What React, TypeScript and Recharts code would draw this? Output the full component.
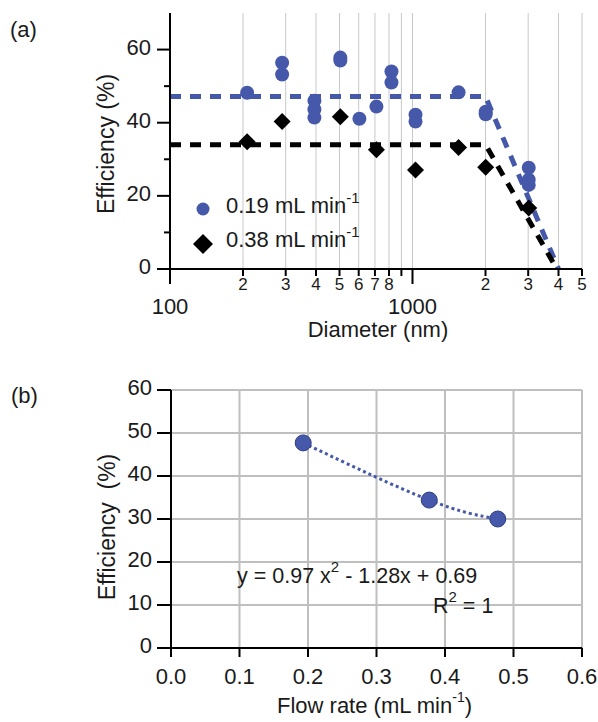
import {
  CartesianGrid,
  ComposedChart,
  Legend,
  Line,
  Scatter,
  XAxis,
  YAxis,
} from "recharts";

// Panel (a): efficiency vs particle diameter, two flow rates.
// Panel (b): efficiency vs flow rate with a quadratic fit.

const FONT = "'Liberation Sans', Arial, Helvetica, sans-serif";
const BLUE = "#4658a9";
const INK = "#1a1a1a";
const GRID = "#c8c8c8";

// (a) 0.19 mL/min
const diamBlue = [208, 290, 290, 394, 394, 394, 504, 504, 604, 710, 819, 819, 1029, 1029, 1549, 2004, 2004, 3015, 3015, 3015];
const effBlue = [48.2, 56.4, 53.2, 46.0, 43.6, 41.4, 57.8, 57.0, 41.1, 44.4, 54.0, 51.0, 42.2, 40.3, 48.3, 43.0, 42.3, 27.7, 24.4, 23.0];
// (a) 0.38 mL/min
const diamBlack = [208, 290, 504, 710, 1029, 1549, 2004, 3015];
const effBlack = [34.8, 40.3, 41.6, 32.6, 27.1, 33.2, 27.8, 16.7];
// (a) dashed guide lines
const guideDiamBlue = [100, 2000, 4000];
const guideEffBlue = [47.2, 47.2, 0];
const guideDiamBlack = [100, 2000, 3900];
const guideEffBlack = [34.0, 34.0, 0.5];
const diamTicks = [100, 200, 300, 400, 500, 600, 700, 800, 900, 1000, 2000, 3000, 4000, 5000];
const effTicksA = [0, 10, 20, 30, 40, 50, 60];

// (b)
const flowRate = [0.193, 0.377, 0.477];
const flowEff = [47.7, 34.4, 30.0];
const flowTicks = [0, 0.1, 0.2, 0.3, 0.4, 0.5, 0.6];
const effTicksB = [0, 10, 20, 30, 40, 50, 60];

const zip = (xs: number[], ys: number[]) => xs.map((x, i) => ({ x, y: ys[i] }));

const diamond = (cx: number, cy: number, h: number) =>
  `M${cx},${cy - h}L${cx + h},${cy}L${cx},${cy + h}L${cx - h},${cy}Z`;

const BlueDot = (p: any) => <circle cx={p.cx} cy={p.cy} r={7} fill={BLUE} />;
const BlackDiamond = (p: any) => <path d={diamond(p.cx, p.cy, 8.5)} fill="#000" />;

function DiamTick({ x, y, payload }: any) {
  const v = payload.value as number;
  const exp = Math.floor(Math.log10(v) + 1e-9);
  const lead = Math.round(v / 10 ** exp);
  const major = lead === 1;
  return (
    <g>
      <line x1={x} y1={y} x2={x} y2={y + (major ? 15 : 7)} stroke="#000" strokeWidth={2} />
      {major ? (
        <text x={x} y={y + 45} textAnchor="middle" fontSize={22} fill={INK} fontFamily={FONT}>
          {v}
        </text>
      ) : lead !== 9 ? (
        <text x={x} y={y + 21} textAnchor="middle" fontSize={17} fill={INK} fontFamily={FONT}>
          {lead}
        </text>
      ) : null}
    </g>
  );
}

function EffTickA({ x, y, payload }: any) {
  const v = payload.value as number;
  const major = v % 20 === 0;
  return (
    <g>
      <line x1={x - (major ? 13 : 6)} y1={y} x2={x} y2={y} stroke="#000" strokeWidth={2} />
      {major && (
        <text x={x - 19} y={y + 5} textAnchor="end" fontSize={22} fill={INK} fontFamily={FONT}>
          {v}
        </text>
      )}
    </g>
  );
}

function FlowTick({ x, y, payload }: any) {
  return (
    <g>
      <line x1={x} y1={y} x2={x} y2={y + 9} stroke="#000" strokeWidth={2} />
      <text x={x} y={y + 36} textAnchor="middle" fontSize={22} fill={INK} fontFamily={FONT}>
        {(payload.value as number).toFixed(1)}
      </text>
    </g>
  );
}

function EffTickB({ x, y, payload }: any) {
  return (
    <g>
      <line x1={x - 14} y1={y} x2={x} y2={y} stroke="#000" strokeWidth={2} />
      <text x={x - 19} y={y + 5} textAnchor="end" fontSize={22} fill={INK} fontFamily={FONT}>
        {payload.value}
      </text>
    </g>
  );
}

function DiamLegend() {
  return (
    <svg width={190} height={72} style={{ overflow: "visible", fontFamily: FONT }}>
      <circle cx={13} cy={19} r={6.5} fill={BLUE} />
      <text x={36} y={23} fontSize={22} fill={INK}>
        0.19 mL min<tspan dy={-10} fontSize={15}>-1</tspan>
      </text>
      <path d={diamond(13, 54, 10)} fill="#000" />
      <text x={36} y={57} fontSize={22} fill={INK}>
        0.38 mL min<tspan dy={-10} fontSize={15}>-1</tspan>
      </text>
    </svg>
  );
}

const axisLine = { stroke: "#000", strokeWidth: 2 };

function DiameterChart() {
  return (
    <ComposedChart width={598} height={345} margin={{ top: 13, right: 16, bottom: 36, left: 110 }}>
      <CartesianGrid horizontal={false} stroke={GRID} strokeWidth={1} />
      <XAxis
        dataKey="x"
        type="number"
        scale="log"
        domain={[100, 5000]}
        allowDataOverflow
        ticks={diamTicks}
        interval={0}
        tick={<DiamTick />}
        tickLine={false}
        tickSize={0}
        tickMargin={0}
        axisLine={axisLine}
        height={40}
      />
      <XAxis xAxisId="top" orientation="top" type="number" scale="log" domain={[100, 5000]}
             allowDataOverflow tick={false} tickLine={false} axisLine={axisLine} height={0} />
      <YAxis
        dataKey="y"
        type="number"
        domain={[0, 70]}
        allowDataOverflow
        ticks={effTicksA}
        interval={0}
        tick={<EffTickA />}
        tickLine={false}
        tickSize={0}
        tickMargin={0}
        axisLine={axisLine}
        width={60}
      />
      <YAxis yAxisId="right" orientation="right" type="number" domain={[0, 70]} tick={false}
             tickLine={false} axisLine={axisLine} width={0} />
      <Line data={zip(guideDiamBlue, guideEffBlue)} dataKey="y" type="linear" stroke={BLUE}
            strokeWidth={5} strokeDasharray="11 9" dot={false} isAnimationActive={false} />
      <Line data={zip(guideDiamBlack, guideEffBlack)} dataKey="y" type="linear" stroke="#000"
            strokeWidth={5} strokeDasharray="11 9" dot={false} isAnimationActive={false} />
      <Scatter data={zip(diamBlue, effBlue)} dataKey="y" shape={BlueDot} isAnimationActive={false} />
      <Scatter data={zip(diamBlack, effBlack)} dataKey="y" shape={BlackDiamond} isAnimationActive={false} />
      <Legend
        layout="vertical"
        align="center"
        verticalAlign="middle"
        content={() => <DiamLegend />}
        wrapperStyle={{ left: 190, top: 190, width: 200, height: 72 }}
      />
    </ComposedChart>
  );
}

function FlowChart() {
  return (
    <ComposedChart width={598} height={362} margin={{ top: 30, right: 16, bottom: 34, left: 111 }}>
      <CartesianGrid stroke="#bfbfbf" strokeWidth={2} />
      <XAxis
        dataKey="x"
        type="number"
        domain={[0, 0.6]}
        ticks={flowTicks}
        interval={0}
        tick={<FlowTick />}
        tickLine={false}
        tickSize={0}
        tickMargin={0}
        axisLine={axisLine}
        height={40}
      />
      <XAxis xAxisId="top" orientation="top" type="number" domain={[0, 0.6]} tick={false}
             tickLine={false} axisLine={axisLine} height={0} />
      <YAxis
        dataKey="y"
        type="number"
        domain={[0, 60]}
        ticks={effTicksB}
        interval={0}
        tick={<EffTickB />}
        tickLine={false}
        tickSize={0}
        tickMargin={0}
        axisLine={axisLine}
        width={60}
      />
      <YAxis yAxisId="right" orientation="right" type="number" domain={[0, 60]} tick={false}
             tickLine={false} axisLine={axisLine} width={0} />
      <Line
        data={zip(flowRate, flowEff)}
        dataKey="y"
        type="natural"
        stroke={BLUE}
        strokeWidth={3}
        strokeDasharray="3 3"
        dot={{ r: 8, fill: BLUE, stroke: "#2f3d85", strokeWidth: 1, strokeDasharray: "" }}
        isAnimationActive={false}
      />
    </ComposedChart>
  );
}

export default function App() {
  return (
    <div style={{ position: "absolute", left: 0, top: 0, width: 598, height: 722, background: "#fff", fontFamily: FONT }}>
      <div style={{ position: "absolute", left: 0, top: 0 }}>
        <DiameterChart />
      </div>
      <div style={{ position: "absolute", left: 0, top: 360 }}>
        <FlowChart />
      </div>
      <svg width={598} height={722} style={{ position: "absolute", left: 0, top: 0, pointerEvents: "none" }}
           fontFamily={FONT} fill={INK}>
        <text x={10} y={37} fontSize={22}>(a)</text>
        <text x={114} y={144} fontSize={23} textAnchor="middle" transform="rotate(-90 114 144)">
          Efficiency (%)
        </text>
        <text x={378} y={337} fontSize={22} textAnchor="middle">Diameter (nm)</text>

        <text x={11} y={403} fontSize={22}>(b)</text>
        <text x={115} y={527} fontSize={23} textAnchor="middle" transform="rotate(-90 115 527)"
              style={{ whiteSpace: "pre" }}>
          {"Efficiency  (%)"}
        </text>
        <text x={277} y={713} fontSize={22}>
          Flow rate (mL min<tspan dy={-11} fontSize={14}>-1</tspan>
          <tspan dy={11}>)</tspan>
        </text>
        <text x={237} y={583} fontSize={21.5}>
          y = 0.97 x<tspan dy={-11} fontSize={15}>2</tspan>
          <tspan dy={11}> - 1.28x + 0.69</tspan>
        </text>
        <text x={433} y={613} fontSize={21.5}>
          R<tspan dy={-11} fontSize={15}>2</tspan>
          <tspan dy={11}> = 1</tspan>
        </text>
      </svg>
    </div>
  );
}
